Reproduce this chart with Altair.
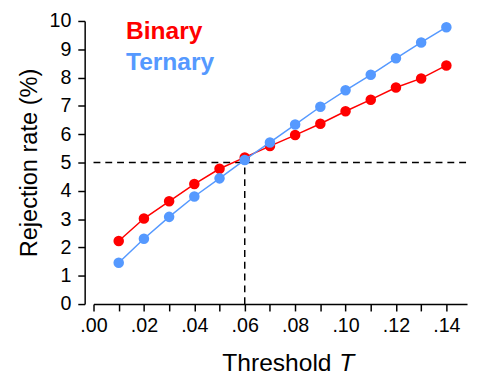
import altair as alt
import pandas as pd

thresholds = [0.01, 0.02, 0.03, 0.04, 0.05, 0.06, 0.07, 0.08, 0.09, 0.10, 0.11, 0.12, 0.13, 0.14]
binary = [2.23, 3.02, 3.63, 4.24, 4.78, 5.18, 5.58, 5.97, 6.37, 6.81, 7.22, 7.65, 7.97, 8.43]
ternary = [1.46, 2.31, 3.08, 3.80, 4.44, 5.09, 5.71, 6.34, 6.97, 7.55, 8.10, 8.68, 9.24, 9.78]
series_names = ["Binary", "Ternary"]
series_colors = ["#ff0000", "#5599ff"]
x_ticks = [0.00, 0.01, 0.02, 0.03, 0.04, 0.05, 0.06, 0.07, 0.08, 0.09, 0.10, 0.11, 0.12, 0.13, 0.14]
y_ticks = [0, 1, 2, 3, 4, 5, 6, 7, 8, 9, 10]
ref_rate = 5
ref_threshold = 0.06

FONT = "Liberation Sans"
W, H = 380, 288

rows = []
for name, vals in zip(series_names, [binary, ternary]):
    for t, v in zip(thresholds, vals):
        rows.append({"T": t, "rate": v, "series": name})
df = pd.DataFrame(rows)

xscale = alt.Scale(domain=[0, 0.1482], nice=False)
yscale = alt.Scale(domain=[0, 10], nice=False)

xaxis = alt.Axis(values=x_ticks, title=None, grid=False,
                 labelExpr="round(datum.value*100) % 2 == 0 ? replace(format(datum.value, '.2f'), '0.', '.') : ''",
                 tickSize=7, labelPadding=5, labelFlush=False, labelOverlap=False)
yaxis = alt.Axis(values=y_ticks, title="Rejection rate (%)", grid=False, offset=9,
                 tickSize=7, labelPadding=7, titlePadding=8, format="d", labelOverlap=False)

color = alt.Color("series:N", scale=alt.Scale(domain=series_names, range=series_colors), legend=None)

hline = alt.Chart(pd.DataFrame({"x": [0.0], "x2": [0.1482], "y": [ref_rate]})).mark_rule(
    color="black", strokeWidth=1.5, strokeDash=[7, 5]
).encode(x=alt.X("x:Q", scale=xscale, axis=xaxis), x2="x2:Q",
         y=alt.Y("y:Q", scale=yscale, axis=yaxis))
vline = alt.Chart(pd.DataFrame({"x": [ref_threshold], "y": [0], "y2": [ref_rate]})).mark_rule(
    color="black", strokeWidth=1.5, strokeDash=[7, 5]
).encode(x=alt.X("x:Q", scale=xscale, axis=xaxis),
         y=alt.Y("y:Q", scale=yscale, axis=yaxis), y2="y2:Q")

layers = []
for name in series_names:
    sub = df[df.series == name]
    base = alt.Chart(sub).encode(
        x=alt.X("T:Q", scale=xscale, axis=xaxis),
        y=alt.Y("rate:Q", scale=yscale, axis=yaxis),
        color=color,
    )
    layers.append(base.mark_line(strokeWidth=1.5))
    layers.append(base.mark_circle(size=115, opacity=1))

legend_df = pd.DataFrame({"label": series_names, "color": series_colors, "py": [18, 50]})
legend = alt.Chart(legend_df).mark_text(
    font=FONT, fontSize=25, fontWeight="bold", align="left", baseline="alphabetic"
).encode(
    x=alt.value(33), y=alt.Y("py:Q", scale=None), text="label:N",
    color=alt.Color("color:N", scale=None),
)

title1 = alt.Chart(pd.DataFrame({"t": ["Threshold"]})).mark_text(
    font=FONT, fontSize=25, align="left", baseline="alphabetic", color="black", clip=False
).encode(x=alt.value(131), y=alt.value(H + 68), text="t:N")
title2 = alt.Chart(pd.DataFrame({"t": ["T"]})).mark_text(
    font=FONT, fontSize=25, fontStyle="italic", align="left", baseline="alphabetic", color="black", clip=False
).encode(x=alt.value(250), y=alt.value(H + 68), text="t:N")

chart = alt.layer(hline, vline, *layers, legend, title1, title2).properties(
    width=W, height=H,
    autosize=alt.AutoSizeParams(type="none"),
    padding={"left": 87, "top": 10, "right": 2, "bottom": 71},
).configure_view(stroke=None).configure_axis(
    domainColor="black", domainWidth=1.5, tickColor="black", tickWidth=1.5,
    labelFont=FONT, labelFontSize=20, labelColor="black",
    titleFont=FONT, titleFontSize=24, titleFontWeight="normal", titleColor="black",
)

chart.save("out.html", embed_options={"renderer": "svg", "actions": False})
